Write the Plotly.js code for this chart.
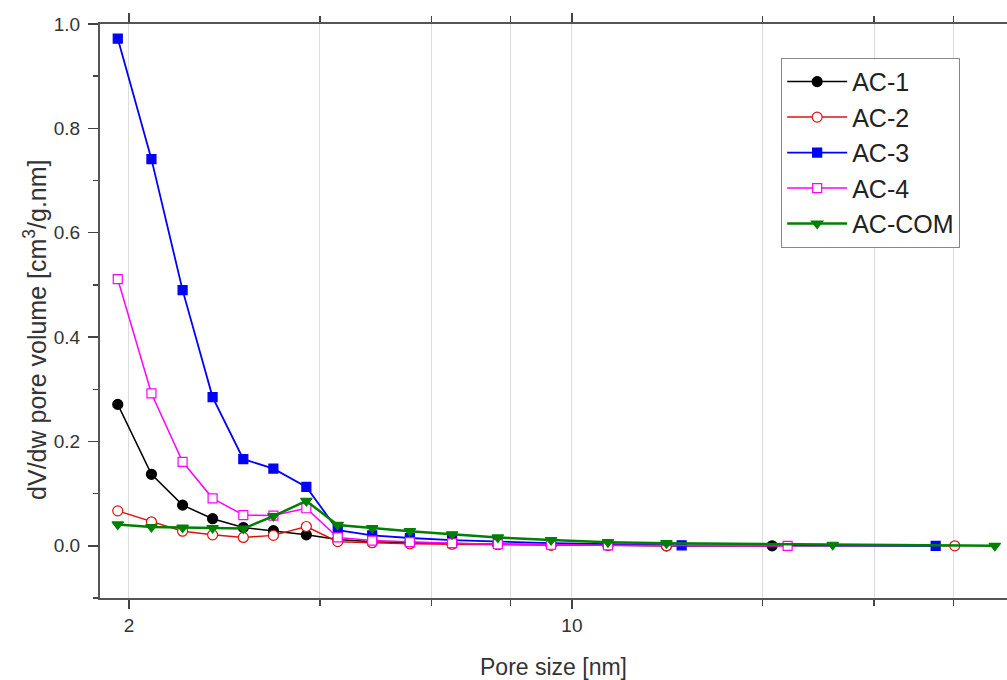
<!DOCTYPE html>
<html>
<head>
<meta charset="utf-8">
<script src="https://cdn.plot.ly/plotly-3.0.1.min.js"></script>
<style>html,body{margin:0;padding:0;background:#fff;}#chart{width:1007px;height:680px;}</style>
</head>
<body>
<div id="chart"></div>
<script>
// Pore size (nm) and dV/dw values
const xCommon = [1.92, 2.17, 2.43, 2.71, 3.03, 3.38, 3.81, 4.27, 4.84, 5.55, 6.47, 7.64, 9.27, 11.4];

const ac1X = xCommon.concat([14.1, 20.7]);
const ac1Y = [0.271, 0.137, 0.078, 0.052, 0.035, 0.029, 0.021, 0.012, 0.008, 0.006, 0.004, 0.003, 0.002, 0.001, 0.0, 0.0];

const ac2X = xCommon.concat([14.1, 40.2]);
const ac2Y = [0.067, 0.046, 0.028, 0.021, 0.016, 0.020, 0.037, 0.008, 0.006, 0.004, 0.003, 0.002, 0.001, 0.001, 0.0, 0.0];

const ac3X = xCommon.concat([14.9, 37.5]);
const ac3Y = [0.972, 0.741, 0.490, 0.285, 0.166, 0.148, 0.113, 0.030, 0.020, 0.015, 0.011, 0.008, 0.005, 0.003, 0.001, 0.0];

const ac4X = xCommon.concat([21.9]);
const ac4Y = [0.511, 0.292, 0.161, 0.091, 0.059, 0.058, 0.072, 0.016, 0.010, 0.007, 0.005, 0.003, 0.002, 0.001, 0.0];

const acComX = xCommon.concat([14.1, 25.8, 46.5]);
const acComY = [0.041, 0.036, 0.035, 0.034, 0.033, 0.057, 0.086, 0.040, 0.034, 0.028, 0.022, 0.016, 0.011, 0.007, 0.005, 0.002, 0.0];

const seriesNames = ['AC-1', 'AC-2', 'AC-3', 'AC-4', 'AC-COM'];

const xMajorTicks = [2, 10];
const xMajorText = ['2', '10'];
const xMinorTicks = [4, 6, 8, 20, 30, 40];
const yTicks = [0.0, 0.2, 0.4, 0.6, 0.8, 1.0];
const yTickText = ['0.0', '0.2', '0.4', '0.6', '0.8', '1.0'];

const xTitle = 'Pore size [nm]';
const yTitle = 'dV/dw pore volume [cm<sup>3</sup>/g.nm]';

const FONT = 'Arial, "Liberation Sans", sans-serif';

function tr(x, y, name, color, symbol, fill, lw, msize) {
  return {
    x: x, y: y, name: name, type: 'scatter', mode: 'lines+markers',
    legendgroup: name,
    line: {color: color, width: lw},
    marker: {symbol: symbol, size: msize, color: fill, line: {color: color, width: 1.2}}
  };
}

const data = [
  tr(ac1X, ac1Y, seriesNames[0], '#000000', 'circle', '#000000', 1.5, 10),
  tr(ac2X, ac2Y, seriesNames[1], '#e01010', 'circle', '#ffffff', 1.5, 10),
  tr(ac3X, ac3Y, seriesNames[2], '#0000ff', 'square', '#0000ff', 1.8, 9),
  tr(ac4X, ac4Y, seriesNames[3], '#ff00ff', 'square', '#ffffff', 1.5, 9),
  tr(acComX, acComY, seriesNames[4], '#008000', 'triangle-down', '#008000', 2.5, 10)
];

const layout = {
  width: 1007, height: 680,
  margin: {l: 100, r: 0, t: 24, b: 82},
  paper_bgcolor: '#ffffff', plot_bgcolor: '#ffffff',
  font: {family: FONT, color: '#333333', size: 19},
  showlegend: true,
  legend: {
    x: 0.751, y: 0.941, xanchor: 'left', yanchor: 'top',
    bgcolor: '#ffffff', bordercolor: '#888888', borderwidth: 1,
    font: {family: FONT, size: 25, color: '#222222'},
    tracegroupgap: 0, itemwidth: 60
  },
  xaxis: {
    type: 'log',
    range: [Math.log10(1.8), Math.log10(48.6)],
    tickmode: 'array', tickvals: xMajorTicks, ticktext: xMajorText,
    ticks: 'outside', ticklen: 9, tickwidth: 1.5, tickcolor: '#444',
    showline: true, linecolor: '#555555', linewidth: 2, mirror: 'ticks',
    showgrid: true, gridcolor: '#dddddd', gridwidth: 1,
    zeroline: false,
    tickfont: {size: 19, color: '#333'},
    minor: {tickmode: 'array', tickvals: xMinorTicks, ticks: 'outside', ticklen: 6, tickcolor: '#444', showgrid: true, gridcolor: '#dddddd', gridwidth: 1},
    title: {text: xTitle, font: {size: 23, color: '#333'}, standoff: 24}
  },
  yaxis: {
    range: [-0.1, 1.0],
    tickmode: 'array', tickvals: yTicks, ticktext: yTickText,
    ticks: 'outside', ticklen: 10, tickwidth: 1.5, tickcolor: '#444',
    showline: true, linecolor: '#555555', linewidth: 2, mirror: false,
    showgrid: false, zeroline: false,
    tickfont: {size: 19, color: '#333'},
    ticklabelstandoff: 4,
    minor: {dtick: 0.1, tick0: 0, ticks: 'outside', ticklen: 5, tickcolor: '#444', showgrid: false}
  },
  annotations: [{
    text: yTitle, xref: 'paper', yref: 'paper',
    x: -0.0717, y: 0.467, xanchor: 'center', yanchor: 'middle',
    textangle: -90, showarrow: false,
    font: {family: FONT, size: 25, color: '#333'}
  }]
};

Plotly.newPlot('chart', data, layout, {displayModeBar: false, staticPlot: true});
</script>
</body>
</html>
